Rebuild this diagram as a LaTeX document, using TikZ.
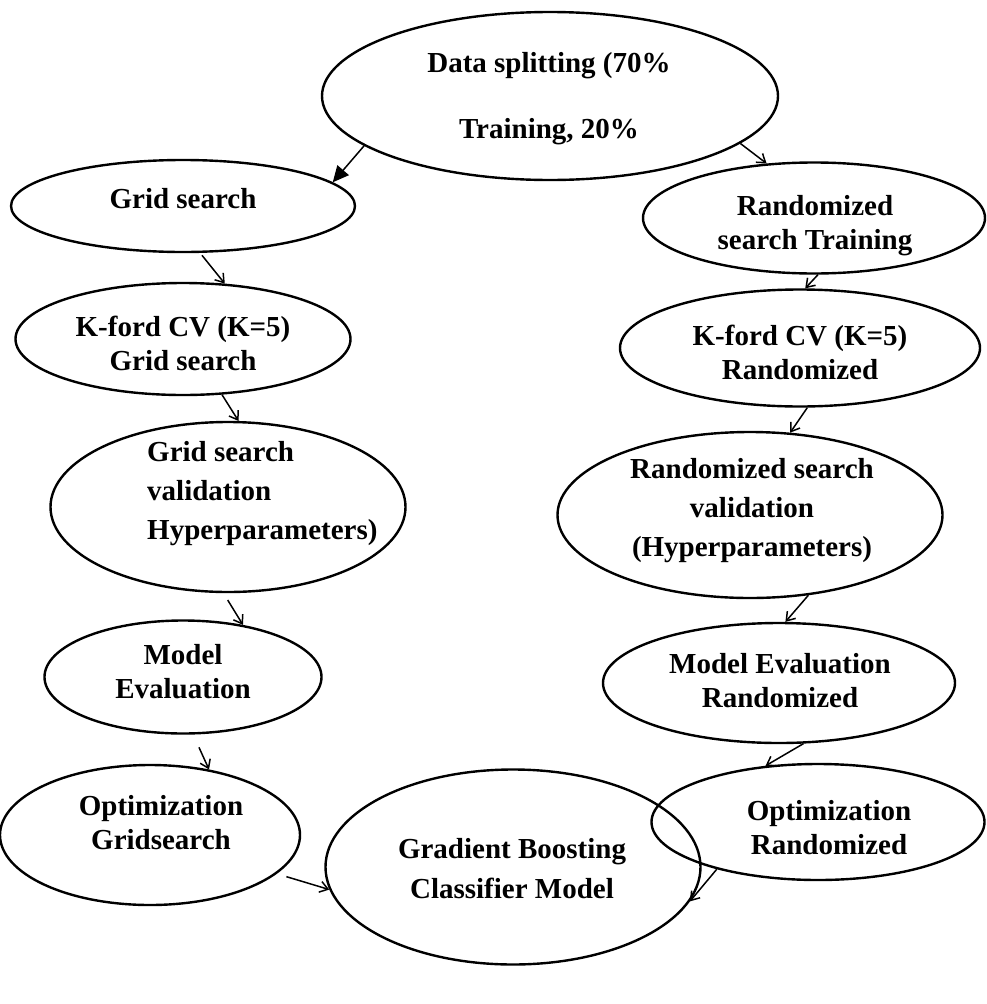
\documentclass[tikz,border=0pt]{standalone}
\usepackage{fontspec}
\setmainfont{Liberation Serif}
\usetikzlibrary{shapes.geometric,arrows.meta}
\begin{document}
\begin{tikzpicture}[x=1pt,y=-1pt,
  stage/.style={draw,ellipse,line width=2.4pt,inner sep=0pt},
  txt/.style={font=\bfseries\fontsize{29}{34}\selectfont,align=center,inner sep=0pt},
  flow/.style={line width=1.5pt,-{Straight Barb[length=8pt,width=11pt]}},
  bigflow/.style={line width=1.5pt,-{Triangle[length=16pt,width=15pt]}}]
\useasboundingbox (0,0) rectangle (986,1004);

% stages
\node[stage,minimum width=456pt,minimum height=168pt] (split) at (550,96) {};
\node[stage,minimum width=344pt,minimum height=92pt]  (grid)  at (183,206) {};
\node[stage,minimum width=342pt,minimum height=111pt] (rand)  at (814,218) {};
\node[stage,minimum width=335pt,minimum height=112pt] (kgrid) at (183,339) {};
\node[stage,minimum width=360pt,minimum height=117pt] (krand) at (800,348) {};
\node[stage,minimum width=355pt,minimum height=170pt] (gval)  at (228,507) {};
\node[stage,minimum width=385pt,minimum height=166pt] (rval)  at (750,515) {};
\node[stage,minimum width=277pt,minimum height=113pt] (meval) at (183,677) {};
\node[stage,minimum width=352pt,minimum height=120pt] (mrand) at (779,683) {};
\node[stage,minimum width=300pt,minimum height=140pt] (optg)  at (150,835) {};
\node[stage,minimum width=333pt,minimum height=116pt] (optr)  at (818,822) {};
\node[stage,minimum width=375pt,minimum height=195pt] (gb)    at (513,867) {};

% labels
\node[txt,font=\bfseries\fontsize{29}{66}\selectfont] (split-t) at (549,99) {Data splitting (70\%\\Training, 20\%};
\node[txt] (grid-t)  at (183,199) {Grid search};
\node[txt] (rand-t)  at (815,226) {Randomized\\search Training};
\node[txt] (kgrid-t) at (183,343) {K-ford CV (K=5)\\Grid search};
\node[txt] (krand-t) at (800,352) {K-ford CV (K=5)\\Randomized};
\node[txt,align=left,font=\bfseries\fontsize{29}{39}\selectfont,anchor=west] (gval-t) at (147,494) {Grid search\\validation\\Hyperparameters)};
\node[txt,font=\bfseries\fontsize{29}{39}\selectfont] (rval-t) at (752,511) {Randomized search\\validation\\(Hyperparameters)};
\node[txt] (meval-t) at (183,672) {Model\\Evaluation};
\node[txt] (mrand-t) at (780,681) {Model Evaluation\\Randomized};
\node[txt] (optg-t)  at (161,823) {Optimization\\Gridsearch};
\node[txt] (optr-t)  at (829,828) {Optimization\\Randomized};
\node[txt,font=\bfseries\fontsize{29}{40}\selectfont] (gb-t) at (512,869) {Gradient Boosting\\Classifier Model};

% connectors
\draw[bigflow] (split.-165.5) -- (grid.9.6);
\draw[flow] (split.-14.1) -- (rand.131.2);
\draw[flow,shorten <=3pt] (grid.-70.9) -- (kgrid.53.4);
\draw[flow] (rand.-86.8) -- (krand.85.2);
\draw[flow] (kgrid.-55.2) -- (gval.83.9);
\draw[flow,shorten <=8pt] (gval.-93) -- (meval.41.2);
\draw[flow] (krand.-83.3) -- (rval.64.2);
\draw[flow] (rval.-54.6) -- (mrand.84.4);
\draw[flow] (mrand.-68.7) -- (optr.133.9);
\draw[flow,shorten <=14pt] (meval.-80.3) -- (optg.48);
\draw[flow,shorten <=10pt] (optg.-17.2) -- (gb.-173.8);
\draw[flow] (optr.-155.2) -- (gb.-11);
\end{tikzpicture}
\end{document}
